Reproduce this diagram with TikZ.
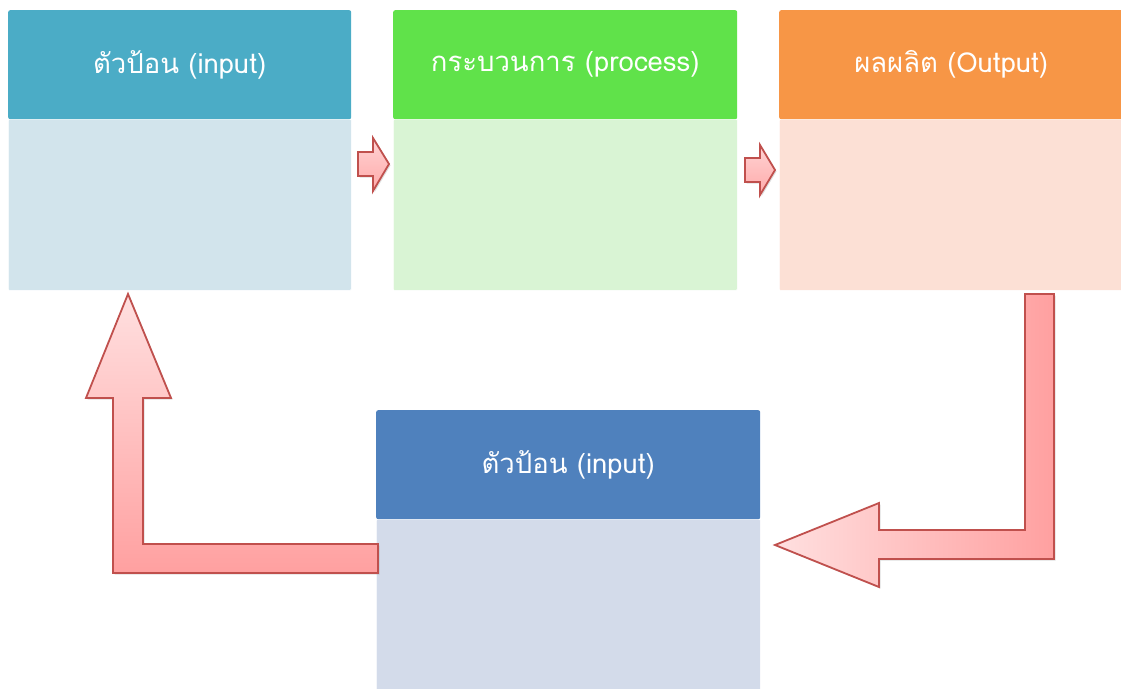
\documentclass[tikz,border=0pt]{standalone}
\usepackage{fontspec}
\newfontfamily\thaifont[Script=Thai]{Loma}
\usetikzlibrary{shadows}
\definecolor{hdrA}{HTML}{4BACC6}
\definecolor{bodyA}{HTML}{D2E4EC}
\definecolor{hdrB}{HTML}{60E24A}
\definecolor{bodyB}{HTML}{D9F4D4}
\definecolor{hdrC}{HTML}{F79646}
\definecolor{bodyC}{HTML}{FCE0D5}
\definecolor{hdrD}{HTML}{4F81BD}
\definecolor{bodyD}{HTML}{D3DBEA}
\definecolor{arrowline}{HTML}{C0504D}
\definecolor{arrowlight}{HTML}{FFE0E0}
\definecolor{arrowdark}{HTML}{FFA0A0}
\begin{document}
\begin{tikzpicture}[x=1pt,y=-1pt,
  header/.style={anchor=north west, inner sep=0pt, rounded corners=2pt,
    minimum height=109pt, text=white,
    font=\thaifont\fontsize{27.5}{32}\selectfont},
  panel/.style={anchor=north west, inner sep=0pt, rounded corners=1pt,
    draw=white, line width=0.6pt},
  blockarrow/.style={draw=arrowline, line width=1.8pt, line join=miter,
    drop shadow={opacity=0.25, shadow xshift=1.5pt, shadow yshift=-1.5pt}},
  smallarrow/.style={blockarrow, top color=arrowlight!80!arrowdark, bottom color=arrowdark!90!white}]
\useasboundingbox (0,0) rectangle (1121,688);
\clip (0,0) rectangle (1121,688);

% input
\node[panel, fill=bodyA, minimum width=343pt, minimum height=171pt] (bodyin) at (8,119) {};
\node[header, fill=hdrA, minimum width=343pt] (hdrin) at (8,10) {ตัวป้อน (input)};
% process
\node[panel, fill=bodyB, minimum width=344pt, minimum height=171pt] (bodyproc) at (393,119) {};
\node[header, fill=hdrB, minimum width=344pt] (hdrproc) at (393,10) {กระบวนการ (process)};
% output
\node[panel, fill=bodyC, minimum width=344pt, minimum height=171pt] (bodyout) at (779,119) {};
\node[header, fill=hdrC, minimum width=344pt] (hdrout) at (779,10) {ผลผลิต (Output)};
% feedback input
\node[panel, fill=bodyD, minimum width=384pt, minimum height=180pt] (bodyfb) at (376,519) {};
\node[header, fill=hdrD, minimum width=384pt] (hdrfb) at (376,410) {ตัวป้อน (input)};

% small block arrows between the top boxes
\path[smallarrow] (358,152) -- (373,152) -- (373,138) -- (389,164)
  -- (373,191) -- (373,176) -- (358,176) -- cycle;
\path[smallarrow] (745,158) -- (760,158) -- (760,145) -- (775,170)
  -- (760,195) -- (760,182) -- (745,182) -- cycle;

% bent arrow from output down to the feedback box
\path[blockarrow, left color=arrowlight, right color=arrowdark]
  (1025,294) -- (1054,294) -- (1054,559) -- (879,559) -- (879,587)
  -- (775,545) -- (879,503) -- (879,530) -- (1025,530) -- cycle;

% bent arrow from the feedback box back up to input
\path[blockarrow, top color=arrowlight, bottom color=arrowdark]
  (378,544) -- (378,573) -- (113,573) -- (113,398) -- (86,398)
  -- (128,294) -- (171,398) -- (143,398) -- (143,544) -- cycle;
\end{tikzpicture}
\end{document}
